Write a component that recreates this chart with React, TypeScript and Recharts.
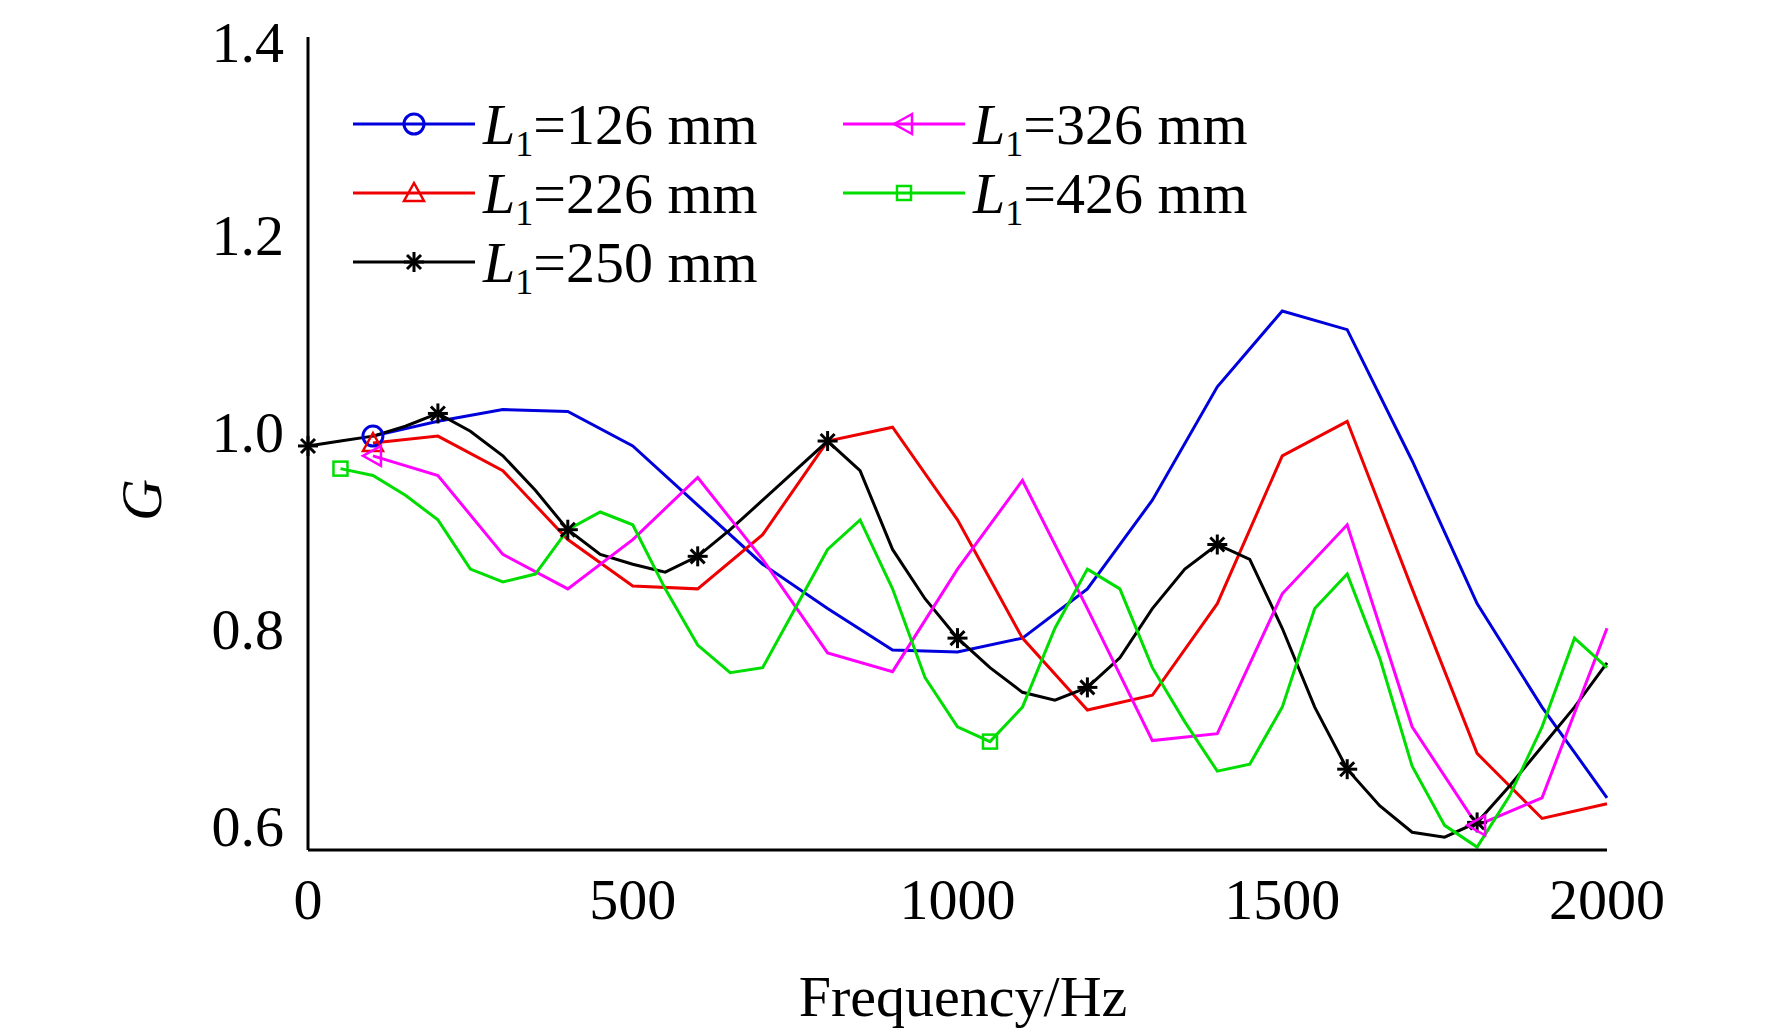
import { LineChart, Line, XAxis, YAxis } from "recharts";

const freq = [0, 50, 100, 150, 200, 250, 300, 350, 400, 450, 500, 550, 600, 650, 700, 750, 800, 850, 900, 950, 1000, 1050, 1100, 1150, 1200, 1250, 1300, 1350, 1400, 1450, 1500, 1550, 1600, 1650, 1700, 1750, 1800, 1850, 1900, 1950, 2000];
const step100 = [100, 200, 300, 400, 500, 600, 700, 800, 900, 1000, 1100, 1200, 1300, 1400, 1500, 1600, 1700, 1800, 1900, 2000];
const g126 = [0.995, 1.01, 1.022, 1.02, 0.985, 0.925, 0.865, 0.82, 0.778, 0.776, 0.79, 0.84, 0.93, 1.045, 1.122, 1.103, 0.97, 0.825, 0.72, 0.628];
const g226 = [0.988, 0.995, 0.96, 0.89, 0.843, 0.84, 0.895, 0.99, 1.004, 0.91, 0.79, 0.717, 0.732, 0.825, 0.975, 1.01, 0.84, 0.673, 0.607, 0.622];
const g326 = [0.975, 0.955, 0.875, 0.84, 0.89, 0.953, 0.87, 0.775, 0.756, 0.86, 0.95, 0.82, 0.686, 0.693, 0.835, 0.905, 0.7, 0.6, 0.628, 0.8];
const g426 = [null, 0.962, 0.955, 0.935, 0.91, 0.86, 0.847, 0.855, 0.9, 0.918, 0.905, 0.84, 0.783, 0.755, 0.76, 0.82, 0.88, 0.91, 0.84, 0.75, 0.7, 0.685, 0.72, 0.8, 0.86, 0.84, 0.76, 0.705, 0.655, 0.662, 0.72, 0.82, 0.855, 0.77, 0.66, 0.6, 0.578, 0.63, 0.7, 0.79, 0.76];
const g250 = [0.985, 0.99, 0.995, 1.005, 1.018, 1.0, 0.975, 0.94, 0.9, 0.875, 0.865, 0.857, 0.873, 0.9, 0.93, 0.96, 0.99, 0.96, 0.88, 0.83, 0.79, 0.76, 0.735, 0.727, 0.74, 0.77, 0.82, 0.86, 0.885, 0.87, 0.8, 0.72, 0.657, 0.62, 0.593, 0.588, 0.603, 0.64, 0.68, 0.72, 0.765];

const marks126 = [100];
const marks226 = [100];
const marks326 = [100, 1800];
const marks426 = [50, 1050];
const marks250 = [0, 200, 400, 600, 800, 1000, 1200, 1400, 1600, 1800];

const yTicks = [0.6, 0.8, 1.0, 1.2, 1.4];
const xTicks = [0, 500, 1000, 1500, 2000];
const yDomain = [0.575, 1.4];

const data = freq.map((f, i) => {
  const j = step100.indexOf(f);
  return {
    f,
    a: j >= 0 ? g126[j] : null,
    b: j >= 0 ? g226[j] : null,
    c: j >= 0 ? g326[j] : null,
    d: g426[i],
    e: g250[i],
  };
});

const font = "'Liberation Serif', 'Times New Roman', serif";
const axisStroke = { stroke: "#000", strokeWidth: 3 };

type Shape = "circle" | "tri" | "ltri" | "square" | "star";

const Marker = ({ x, y, shape, color }: { x: number; y: number; shape: Shape; color: string }) => {
  const s = 10;
  if (shape === "circle") return <circle cx={x} cy={y} r={s} fill="none" stroke={color} strokeWidth={3} />;
  if (shape === "tri")
    return <polygon points={`${x},${y - s} ${x - s},${y + s * 0.8} ${x + s},${y + s * 0.8}`} fill="none" stroke={color} strokeWidth={2.5} />;
  if (shape === "ltri")
    return <polygon points={`${x - s},${y} ${x + s * 0.8},${y - s} ${x + s * 0.8},${y + s}`} fill="none" stroke={color} strokeWidth={2.5} />;
  if (shape === "square")
    return <rect x={x - 7} y={y - 7} width={14} height={14} fill="none" stroke={color} strokeWidth={2.5} />;
  return (
    <g stroke={color} strokeWidth={3}>
      <line x1={x - s} y1={y} x2={x + s} y2={y} />
      <line x1={x} y1={y - s} x2={x} y2={y + s} />
      <line x1={x - 7} y1={y - 7} x2={x + 7} y2={y + 7} />
      <line x1={x - 7} y1={y + 7} x2={x + 7} y2={y - 7} />
    </g>
  );
};

const dotFor = (marks: number[], shape: Shape, color: string) => (p: any) => {
  if (p.value == null || !marks.includes(p.payload.f)) return <g key={p.key} />;
  return <Marker key={p.key} x={p.cx} y={p.cy} shape={shape} color={color} />;
};

const series = [
  { key: "a", color: "#0000dd", shape: "circle" as Shape, marks: marks126, label: "126", col: 0, row: 0 },
  { key: "b", color: "#ee0000", shape: "tri" as Shape, marks: marks226, label: "226", col: 0, row: 1 },
  { key: "e", color: "#000000", shape: "star" as Shape, marks: marks250, label: "250", col: 0, row: 2 },
  { key: "c", color: "#ff00ff", shape: "ltri" as Shape, marks: marks326, label: "326", col: 1, row: 0 },
  { key: "d", color: "#00dd00", shape: "square" as Shape, marks: marks426, label: "426", col: 1, row: 1 },
];

export default function App() {
  return (
    <div style={{ position: "relative", width: 1764, height: 1020, background: "#fff", fontFamily: font }}>
      <LineChart width={1764} height={1020} data={data} margin={{ top: 29, right: 165, bottom: 78, left: 200 }}>
        <XAxis
          dataKey="f"
          type="number"
          domain={[0, 2000]}
          ticks={xTicks}
          height={100}
          tickLine={false}
          tickMargin={22}
          axisLine={axisStroke}
          tick={{ fill: "#000", fontSize: 58, fontFamily: font }}
        />
        <XAxis xAxisId="bm" dataKey="f" type="number" domain={[0, 2000]} ticks={xTicks} height={0} mirror tickSize={10} tick={false} axisLine={axisStroke} tickLine={axisStroke} />
        <XAxis xAxisId="top" orientation="top" dataKey="f" type="number" domain={[0, 2000]} ticks={xTicks} height={0} mirror tickSize={10} tick={false} axisLine={axisStroke} tickLine={axisStroke} />
        <YAxis
          type="number"
          domain={yDomain}
          ticks={yTicks}
          width={100}
          tickLine={false}
          tickMargin={18}
          tickFormatter={(v: number) => v.toFixed(1)}
          axisLine={axisStroke}
          tick={{ fill: "#000", fontSize: 58, fontFamily: font }}
          allowDataOverflow
        />
        <YAxis yAxisId="lm" type="number" domain={yDomain} ticks={yTicks} width={0} mirror tickSize={10} tick={false} axisLine={axisStroke} tickLine={axisStroke} allowDataOverflow />
        <YAxis yAxisId="r" orientation="right" type="number" domain={yDomain} ticks={yTicks} width={0} mirror tickSize={10} tick={false} axisLine={axisStroke} tickLine={axisStroke} allowDataOverflow />
        <Line xAxisId="bm" yAxisId="lm" dataKey="e" stroke="none" dot={false} activeDot={false} isAnimationActive={false} />
        <Line xAxisId="top" yAxisId="r" dataKey="e" stroke="none" dot={false} activeDot={false} isAnimationActive={false} />
        {series.map((s) => (
          <Line
            key={s.key}
            dataKey={s.key}
            stroke={s.color}
            strokeWidth={3}
            connectNulls
            isAnimationActive={false}
            dot={dotFor(s.marks, s.shape, s.color)}
            activeDot={false}
          />
        ))}
      </LineChart>
      <svg style={{ position: "absolute", left: 0, top: 0 }} width={1764} height={1020}>
        {series.map((s) => {
          const x0 = s.col === 0 ? 345 : 835;
          const y = 116 + s.row * 69;
          return (
            <g key={s.key}>
              <line x1={x0} y1={y} x2={x0 + 122} y2={y} stroke={s.color} strokeWidth={3} />
              <Marker x={x0 + 61} y={y} shape={s.shape} color={s.color} />
              <text x={x0 + 130} y={y + 20} fontSize={58} fontFamily={font} fill="#000">
                <tspan fontStyle="italic">L</tspan>
                <tspan fontSize={36} dy={12}>1</tspan>
                <tspan dy={-12}>{`=${s.label} mm`}</tspan>
              </text>
            </g>
          );
        })}
        <text x={140} y={492} fontSize={58} fontStyle="italic" fontFamily={font} textAnchor="middle" transform="rotate(-90 140 492)" dominantBaseline="middle">G</text>
        <text x={955} y={1008} fontSize={58} fontFamily={font} textAnchor="middle">Frequency/Hz</text>
      </svg>
    </div>
  );
}
